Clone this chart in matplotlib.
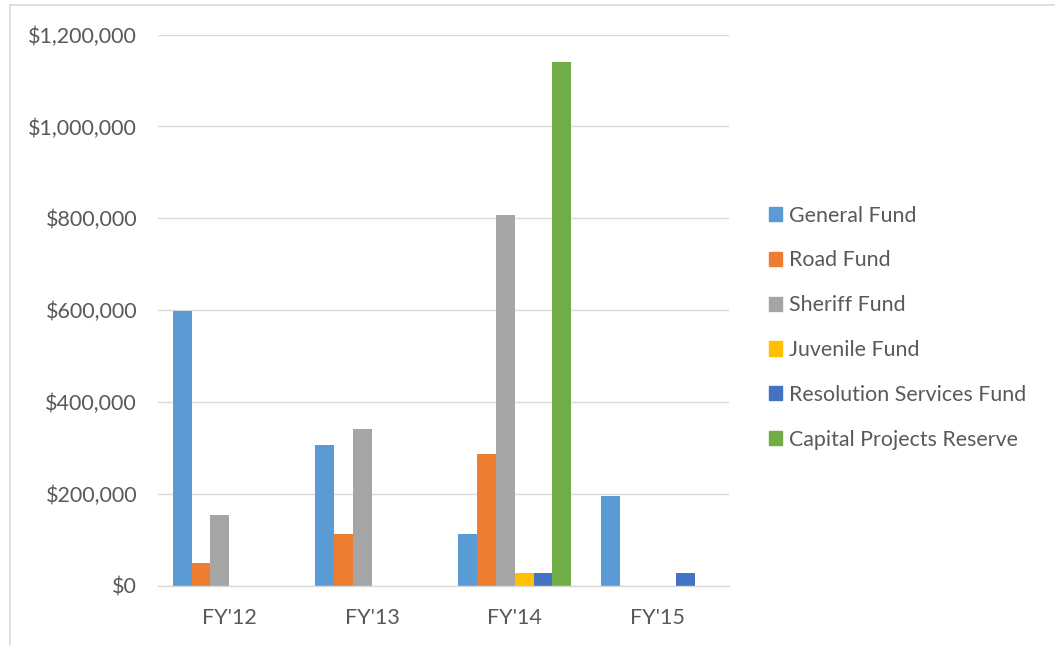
import matplotlib
matplotlib.use("Agg")
import matplotlib.pyplot as plt
from matplotlib.lines import Line2D
from matplotlib.ticker import FuncFormatter
import numpy as np

# Transfers by fiscal year and fund
years = ["FY'12", "FY'13", "FY'14", "FY'15"]
funds = ["General Fund", "Road Fund", "Sheriff Fund", "Juvenile Fund",
         "Resolution Services Fund", "Capital Projects Reserve"]
general_fund = [598000, 306000, 114000, 195000]
road_fund = [51000, 114000, 288000, 0]
sheriff_fund = [154000, 342000, 807000, 0]
juvenile_fund = [0, 0, 28000, 0]
resolution_fund = [0, 0, 28000, 29000]
capital_reserve = [0, 0, 1140000, 0]
yticks = [0, 200000, 400000, 600000, 800000, 1000000, 1200000]

series = [general_fund, road_fund, sheriff_fund, juvenile_fund,
          resolution_fund, capital_reserve]
colors = ["#5B9BD5", "#ED7D31", "#A5A5A5", "#FFC000", "#4472C4", "#70AD47"]

plt.rcParams["font.family"] = ["Lato", "DejaVu Sans"]
W, H = 1055, 645
fig = plt.figure(figsize=(W / 100, H / 100), dpi=100)

left, right = 158, 728.7
bottom, top = 586, 34.5
ax = fig.add_axes([left / W, 1 - bottom / H, (right - left) / W, (bottom - top) / H])

x = np.arange(len(years))
bw = 0.1325
n = len(series)
for i, (vals, name, c) in enumerate(zip(series, funds, colors)):
    offs = (i - (n - 1) / 2) * bw
    ax.bar(x + offs, vals, width=bw, color=c, label=name, zorder=3, linewidth=0)

ax.set_xlim(-0.5, len(years) - 0.5)
ax.set_ylim(0, 1200000)
ax.set_yticks(yticks)
ax.yaxis.set_major_formatter(FuncFormatter(lambda v, p: "${:,.0f}".format(v)))
ax.set_xticks(x)
ax.set_xticklabels(years)

ax.grid(axis="y", color="#d9d9d9", linewidth=1.0, zorder=0)
for s in ["top", "right", "left"]:
    ax.spines[s].set_visible(False)
ax.spines["bottom"].set_color("#d9d9d9")
ax.spines["bottom"].set_linewidth(1.0)
ax.spines["bottom"].set_zorder(4)
ax.tick_params(axis="both", length=0, labelcolor="#595959", labelsize=15.5)
ax.tick_params(axis="y", pad=15)
ax.tick_params(axis="x", pad=16)

handles = [plt.Rectangle((0, 0), 1, 1, color=c) for c in colors]
leg = fig.legend(handles, funds, loc="upper left",
                 bbox_to_anchor=(760 / W, 1 - 197 / H),
                 frameon=False, fontsize=15.4, handlelength=0.65, handleheight=0.65,
                 handletextpad=0.3, labelspacing=1.16, borderaxespad=0)
for t in leg.get_texts():
    t.set_color("#595959")

# chart frame border (left and top edges)
fig.add_artist(Line2D([10 / W, 10 / W], [0, 1 - 5 / H], color="#d9d9d9",
                      linewidth=1.2, transform=fig.transFigure))
fig.add_artist(Line2D([10 / W, 1], [1 - 5 / H, 1 - 5 / H], color="#d9d9d9",
                      linewidth=1.2, transform=fig.transFigure))

fig.savefig("out.png", dpi=100)
